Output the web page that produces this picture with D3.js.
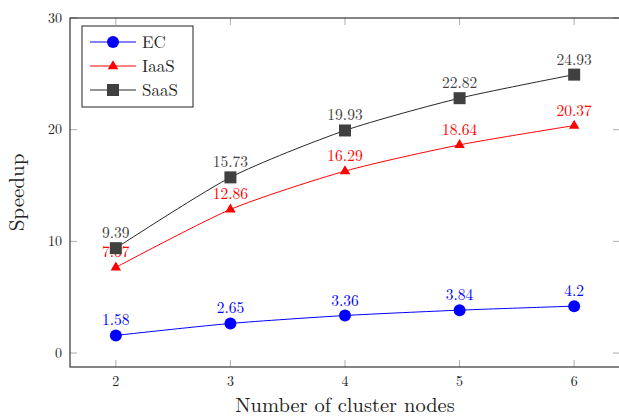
<!DOCTYPE html>
<html>
<head>
<meta charset="utf-8">
<script src="https://cdn.jsdelivr.net/npm/d3@7"></script>
<style>
  body { margin: 0; background: #fff; }
  svg { font-family: "Latin Modern Roman", "DejaVu Serif", serif; }
</style>
</head>
<body>
<svg id="chart" width="619" height="419"></svg>
<script>
// data
let nodes = [2, 3, 4, 5, 6];
let ec = [1.58, 2.65, 3.36, 3.84, 4.2];
let iaas = [7.67, 12.86, 16.29, 18.64, 20.37];
let saas = [9.39, 15.73, 19.93, 22.82, 24.93];
let yTicks = [0, 10, 20, 30];

let series = [
  {name: "EC", values: ec, colour: "#0000ff", line: "#0000ff", marker: "circle"},
  {name: "IaaS", values: iaas, colour: "#ff0000", line: "#ff0000", marker: "triangle"},
  {name: "SaaS", values: saas, colour: "#404040", line: "#262626", marker: "square"}
];

let svg = d3.select("#chart");
let width = 619, height = 419;
let margin = {left: 70, right: -1, top: 18, bottom: 52};

let x = d3.scaleLinear()
  .domain([1.6, 6.4])
  .range([margin.left, width - margin.right]);
let y = d3.scaleLinear()
  .domain([-1.25, 30])
  .range([height - margin.bottom, margin.top]);

let x0 = x.range()[0], x1 = x.range()[1];
let y0 = y.range()[0], y1 = y.range()[1];

// ticks (inward, grey) on all four sides
let tickG = svg.append("g").attr("stroke", "#999").attr("stroke-width", 0.8);
nodes.forEach(function(n){
  tickG.append("line").attr("x1", x(n)).attr("x2", x(n)).attr("y1", y0).attr("y2", y0 - 7);
  tickG.append("line").attr("x1", x(n)).attr("x2", x(n)).attr("y1", y1).attr("y2", y1 + 7);
});
yTicks.forEach(function(t){
  tickG.append("line").attr("x1", x0).attr("x2", x0 + 7).attr("y1", y(t)).attr("y2", y(t));
  tickG.append("line").attr("x1", x1).attr("x2", x1 - 7).attr("y1", y(t)).attr("y2", y(t));
});

// frame
svg.append("rect")
  .attr("x", x0).attr("y", y1)
  .attr("width", x1 - x0).attr("height", y0 - y1)
  .attr("fill", "none").attr("stroke", "#222").attr("stroke-width", 1.1);

// tick labels
svg.append("g").selectAll("text")
  .data(nodes).join("text")
  .attr("x", d => x(d)).attr("y", 386)
  .attr("text-anchor", "middle").attr("font-size", 14).attr("fill", "#222")
  .text(d => d);
svg.append("g").selectAll("text")
  .data(yTicks).join("text")
  .attr("x", x0 - 8).attr("y", d => y(d) + 4.5)
  .attr("text-anchor", "end").attr("font-size", 14).attr("fill", "#222")
  .text(d => d);

// axis titles
svg.append("text")
  .attr("x", 345).attr("y", 412)
  .attr("text-anchor", "middle").attr("font-size", 20.5).attr("fill", "#222")
  .text("Number of cluster nodes");
svg.append("text")
  .attr("transform", "translate(24," + ((y0 + y1) / 2) + ") rotate(-90)")
  .attr("text-anchor", "middle").attr("font-size", 21).attr("fill", "#222")
  .text("Speedup");

let line = d3.line()
  .x((d, i) => x(nodes[i]))
  .y(d => y(d))
  .curve(d3.curveCardinal.tension(0.3));

function drawMarker(g, type, cx, cy, colour){
  if (type === "circle") {
    g.append("circle").attr("cx", cx).attr("cy", cy).attr("r", 6).attr("fill", colour);
  } else if (type === "triangle") {
    let s = 5.8;
    g.append("path")
      .attr("d", `M${cx},${cy - s} L${cx + s * 0.9},${cy + s * 0.55} L${cx - s * 0.9},${cy + s * 0.55}Z`)
      .attr("fill", colour);
  } else {
    g.append("rect").attr("x", cx - 6).attr("y", cy - 6).attr("width", 12).attr("height", 12).attr("fill", colour);
  }
}

let mainG = svg.append("g").attr("class", "main");
series.forEach(function(s){
  let g = mainG.append("g");
  g.append("path")
    .attr("d", line(s.values))
    .attr("fill", "none").attr("stroke", s.line).attr("stroke-width", 1);
  s.values.forEach(function(v, i){
    drawMarker(g, s.marker, x(nodes[i]), y(v), s.colour);
  });
  g.selectAll("text")
    .data(s.values).join("text")
    .attr("x", (d, i) => x(nodes[i]))
    .attr("y", d => y(d) - 10)
    .attr("text-anchor", "middle").attr("font-size", 15.5).attr("fill", s.colour)
    .text(d => d);
});

// legend
let legend = svg.append("g").attr("transform", "translate(82,26)");
legend.append("rect")
  .attr("width", 111).attr("height", 81)
  .attr("fill", "#fff").attr("stroke", "#222").attr("stroke-width", 1);
series.forEach(function(s, i){
  let ly = 16 + i * 24;
  legend.append("line")
    .attr("x1", 8).attr("x2", 54).attr("y1", ly).attr("y2", ly)
    .attr("stroke", s.line).attr("stroke-width", 1);
  drawMarker(legend, s.marker, 31, ly, s.colour);
  legend.append("text")
    .attr("x", 60).attr("y", ly + 5.5)
    .attr("font-size", 17).attr("fill", "#222")
    .text(s.name);
});
</script>
</body>
</html>
